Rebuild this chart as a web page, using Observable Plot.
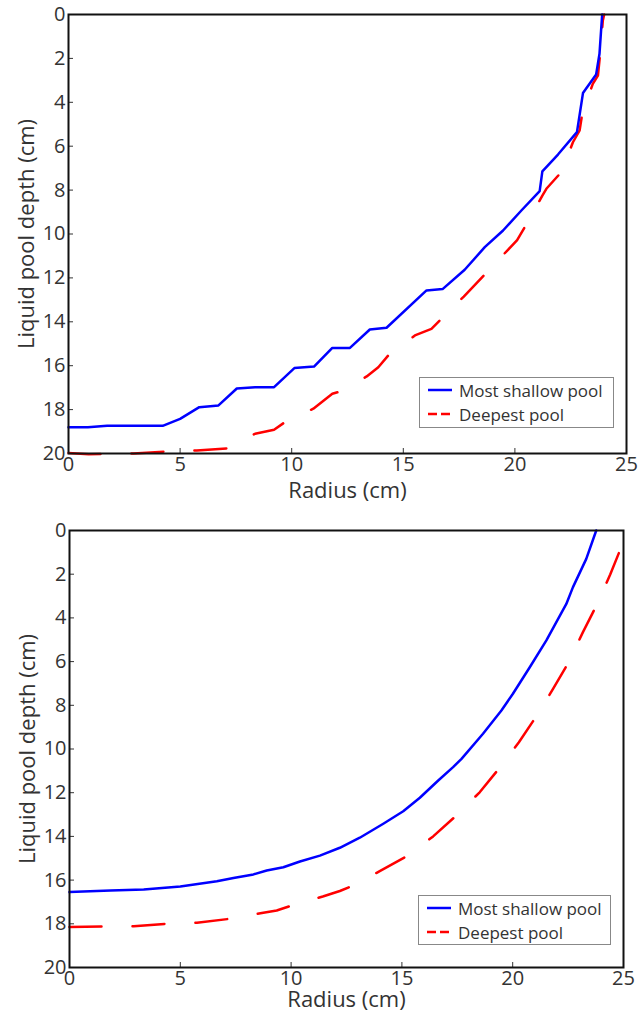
<!DOCTYPE html>
<html><head><meta charset="utf-8">
<script src="https://cdn.jsdelivr.net/npm/d3@7"></script>
<script src="https://cdn.jsdelivr.net/npm/@observablehq/plot@0.6"></script>
<style>
body{margin:0;background:#fff;}
#wrap{position:relative;width:644px;height:1014px;font-family:"Open Sans",sans-serif;overflow:hidden;}
.panel{position:absolute;left:0;}
.panel svg{display:block;overflow:visible;}
.legend{position:absolute;box-sizing:border-box;border:1px solid #888;background:#fff;font-size:17px;color:#333;padding:0 0 0 8px;}
.legend .row{display:flex;align-items:center;height:24px;}
.legend svg{margin-right:7px;}
</style></head><body><div id="wrap"></div>
<script>
// ---- data ----
const xTicks = [0, 5, 10, 15, 20, 25];
const yTicks = [0, 2, 4, 6, 8, 10, 12, 14, 16, 18, 20];
const seriesNames = ["Most shallow pool", "Deepest pool"];
const xLabel = "Radius (cm)";
const yLabel = "Liquid pool depth (cm)";

// top panel
const topShallowR = [0, 0.87, 1.73, 4.22, 5.0, 5.86, 6.72, 7.54, 8.36, 9.21, 10.12, 11.0, 11.82, 12.61, 13.5, 14.25, 16.04, 16.76, 17.75, 18.65, 19.47, 20.29, 21.11, 21.23, 21.93, 22.78, 23.05, 23.64, 23.79, 23.91];
const topShallowD = [18.8, 18.8, 18.74, 18.74, 18.42, 17.89, 17.81, 17.04, 16.98, 16.98, 16.11, 16.04, 15.19, 15.19, 14.35, 14.27, 12.57, 12.51, 11.63, 10.6, 9.84, 8.93, 8.05, 7.15, 6.38, 5.36, 3.58, 2.73, 1.79, 0];
const topDeepR = [0, 0.9, 2.92, 4.26, 5.75, 7.17, 8.36, 9.21, 9.7, 10.97, 11.82, 12.09, 13.36, 13.88, 14.33, 15.52, 16.26, 16.67, 17.71, 18.68, 19.69, 20.1, 20.51, 21.23, 21.41, 22.08, 22.6, 22.9, 23.02, 23.49, 23.72, 23.82, 23.94, 24.0];
const topDeepD = [19.98, 20.03, 20.0, 19.92, 19.86, 19.76, 19.1, 18.92, 18.57, 17.96, 17.28, 17.2, 16.49, 16.07, 15.53, 14.62, 14.32, 13.9, 12.85, 11.81, 10.72, 10.28, 9.57, 8.25, 7.94, 7.18, 5.82, 5.28, 4.5, 3.16, 2.78, 1.79, 0.27, 0];

// bottom panel
const botShallowR = [0, 1.85, 3.35, 5.0, 6.65, 7.4, 8.3, 8.9, 9.65, 10.4, 11.3, 12.2, 13.1, 14.16, 15.06, 15.81, 16.64, 17.31, 17.69, 18.66, 19.49, 20.01, 20.77, 21.52, 22.42, 22.72, 23.32, 23.77];
const botShallowD = [16.55, 16.48, 16.43, 16.29, 16.05, 15.9, 15.74, 15.56, 15.41, 15.15, 14.88, 14.52, 14.06, 13.42, 12.85, 12.23, 11.44, 10.83, 10.45, 9.3, 8.24, 7.47, 6.26, 5.03, 3.36, 2.59, 1.3, 0];
const botDeepR = [0, 1.47, 2.9, 4.36, 5.75, 7.25, 8.68, 9.35, 10.03, 11.43, 12.2, 12.73, 14.0, 15.28, 16.41, 17.46, 18.51, 19.41, 20.28, 21.07, 21.82, 22.54, 23.17, 23.8, 24.4, 24.9, 25.0];
const botDeepD = [18.15, 18.12, 18.11, 18.0, 17.95, 17.77, 17.51, 17.39, 17.16, 16.75, 16.5, 16.28, 15.59, 14.87, 14.0, 13.04, 11.98, 10.86, 9.69, 8.5, 7.25, 6.0, 4.65, 3.39, 2.01, 0.76, 0.55];

const colors = ["#0000ff", "#ff0000"];
const zip = (r, d) => r.map((v, i) => ({r: v, d: d[i]}));

function makePanel(shallow, deep, cfg) {
  const chart = Plot.plot({
    width: 644,
    height: cfg.height,
    marginTop: cfg.mt, marginBottom: cfg.mb, marginLeft: cfg.ml, marginRight: cfg.mr,
    style: {fontFamily: '"Open Sans", sans-serif', fontSize: "20px", color: "#333", background: "transparent"},
    x: {domain: [0, 25]},
    y: {domain: [0, 20], reverse: true},
    marks: [
      Plot.line(deep, {x: "r", y: "d", stroke: colors[1], strokeWidth: 2.5, strokeDasharray: "32,31"}),
      Plot.line(shallow, {x: "r", y: "d", stroke: colors[0], strokeWidth: 2.5}),
      Plot.axisX(xTicks, {anchor: "bottom", tickSize: -5, tickPadding: 8, label: null, fontSize: 20, tickFormat: d => d}),
      Plot.axisY(yTicks, {anchor: "left", tickSize: -5, tickPadding: 8, label: null, fontSize: 20, tickFormat: d => d}),
      Plot.frame({stroke: "#111", strokeWidth: 2}),
      Plot.text([xLabel], {frameAnchor: "bottom", lineAnchor: "middle", dy: cfg.xlDy, fontSize: 22, fill: "#333", text: d => d}),
      Plot.text([yLabel], {frameAnchor: "left", textAnchor: "middle", lineAnchor: "middle", rotate: -90, dx: -42, fontSize: 22, fill: "#333", text: d => d})
    ]
  });
  const div = document.createElement("div");
  div.className = "panel";
  div.style.top = cfg.top + "px";
  div.appendChild(chart);
  const lg = document.createElement("div");
  lg.className = "legend";
  Object.assign(lg.style, {left: cfg.lg[0] + "px", top: (cfg.lg[1] - cfg.top) + "px", width: cfg.lg[2] + "px", height: cfg.lg[3] + "px", paddingTop: "0px"});
  lg.innerHTML = seriesNames.map((n, i) =>
    `<div class="row"><svg width="24" height="10"><line x1="0" x2="24" y1="5" y2="5" stroke="${colors[i]}" stroke-width="2.5" ${i ? 'stroke-dasharray="9,4"' : ''}/></svg><span>${n}</span></div>`
  ).join("");
  div.appendChild(lg);
  document.getElementById("wrap").appendChild(div);
}

makePanel(zip(topShallowR, topShallowD), zip(topDeepR, topDeepD),
  {top: 0, height: 510, mt: 14, mb: 57, ml: 68, mr: 18, xlDy: 37, lg: [419, 377, 195, 51]});
makePanel(zip(botShallowR, botShallowD), zip(botDeepR, botDeepD),
  {top: 510, height: 504, mt: 20, mb: 47, ml: 69, mr: 21, xlDy: 32, lg: [418, 895, 193, 50]});
</script></body></html>
